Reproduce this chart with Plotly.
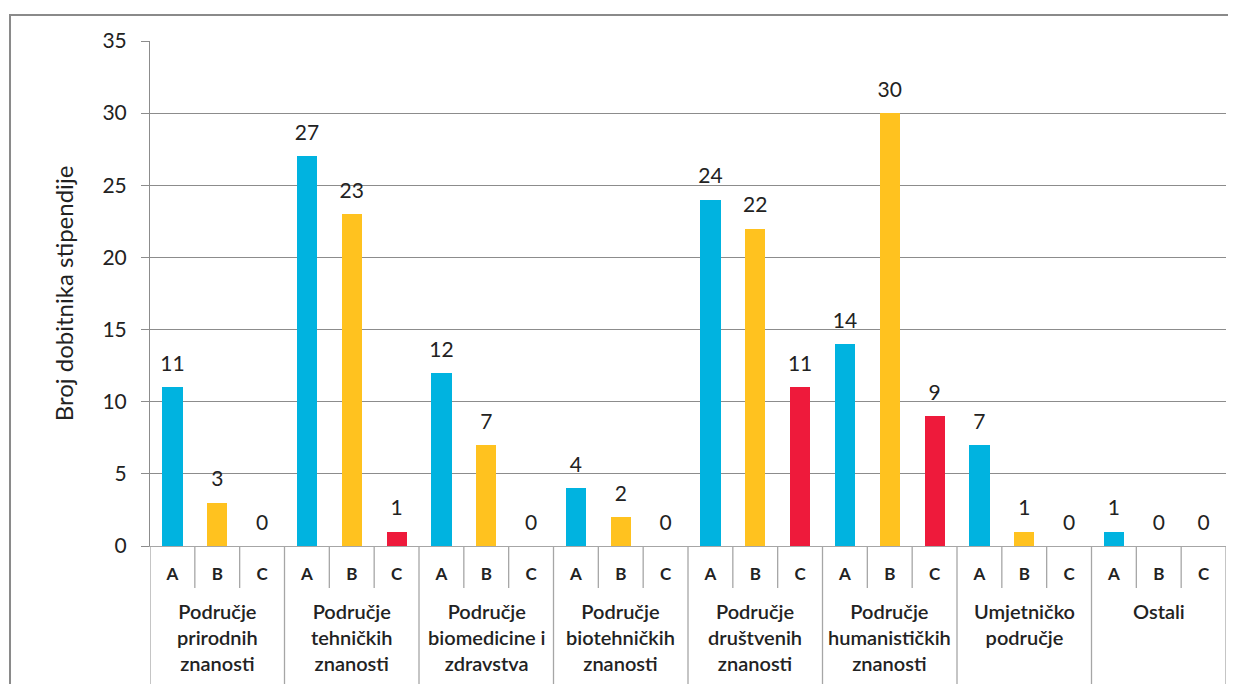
"""Broj dobitnika stipendije po znanstvenim područjima (A/B/C)."""

import plotly.graph_objects as go

GROUPS = [
    "Područje<br>prirodnih<br>znanosti",
    "Područje<br>tehničkih<br>znanosti",
    "Područje<br>biomedicine i<br>zdravstva",
    "Područje<br>biotehničkih<br>znanosti",
    "Područje<br>društvenih<br>znanosti",
    "Područje<br>humanističkih<br>znanosti",
    "Umjetničko<br>područje",
    "Ostali",
]
SUBCATS = ["A", "B", "C"]
VALUES_A = [11, 27, 12, 4, 24, 14, 7, 1]
VALUES_B = [3, 23, 7, 2, 22, 30, 1, 0]
VALUES_C = [0, 1, 0, 0, 11, 9, 0, 0]

COLORS = {"A": "#00B3E0", "B": "#FFC21F", "C": "#EE1A3B"}
GRID = "#8c8c8c"
SEP = "#a6a6a6"
TEXT = "#222222"
FONT = "Lato"

fig = go.Figure()

series = {"A": VALUES_A, "B": VALUES_B, "C": VALUES_C}
for j, name in enumerate(SUBCATS):
    xs = [g * 3 + j for g in range(len(GROUPS))]
    vals = series[name]
    fig.add_trace(
        go.Bar(
            x=xs,
            y=vals,
            name=name,
            width=0.45,
            marker=dict(color=COLORS[name], line=dict(width=0)),
            showlegend=False,
            hoverinfo="y",
        )
    )
    # value labels above the bars
    fig.add_trace(
        go.Scatter(
            x=xs,
            y=vals,
            mode="markers+text",
            text=[str(v) for v in vals],
            textposition="top center",
            textfont=dict(size=21, color=TEXT, family=FONT),
            marker=dict(size=16, opacity=0),
            showlegend=False,
            hoverinfo="skip",
        )
    )

n_slots = len(GROUPS) * 3
shapes = []
# separators between A/B/C and between groups
for k in range(n_slots + 1):
    xb = k - 0.5
    is_group = k % 3 == 0
    shapes.append(
        dict(
            type="line", xref="x", yref="paper",
            x0=xb, x1=xb, y0=0, y1=-0.4 if is_group else -0.083,
            line=dict(color=SEP, width=1.3),
        )
    )
# outer chart frame
shapes.append(
    dict(
        type="rect", xref="paper", yref="paper",
        x0=-0.1301, x1=1.05, y0=-0.5, y1=1.0515,
        line=dict(color="#8a8a8a", width=2), layer="below",
    )
)

annotations = []
for g, label in enumerate(GROUPS):
    annotations.append(
        dict(
            x=g * 3 + 1, y=-0.1, xref="x", yref="paper",
            text=label, showarrow=False, yanchor="top", align="center",
            font=dict(size=20, color=TEXT, family=FONT, weight=600),
        )
    )

# the page body adds an 8px margin, so the figure is shifted by that amount
fig.update_layout(
    width=1228,
    height=676,
    paper_bgcolor="white",
    plot_bgcolor="white",
    margin=dict(l=142, r=10, t=33, b=138),
    font=dict(family=FONT, color=TEXT),
    shapes=shapes,
    annotations=annotations,
    bargap=0,
)
fig.update_xaxes(
    range=[-0.5, n_slots - 0.5],
    tickvals=list(range(n_slots)),
    ticktext=SUBCATS * len(GROUPS),
    tickfont=dict(size=17, color=TEXT, family=FONT, weight="bold"),
    ticks="",
    ticklabelstandoff=12,
    showgrid=False,
    zeroline=False,
    showline=True,
    linecolor=SEP,
    linewidth=1.3,
)
fig.update_yaxes(
    range=[0, 35],
    dtick=5,
    tickfont=dict(size=21, color=TEXT, family=FONT),
    ticks="outside",
    ticklen=8,
    tickcolor=GRID,
    ticklabelstandoff=10,
    gridcolor=GRID,
    gridwidth=1,
    zeroline=False,
    showline=True,
    linecolor=GRID,
    linewidth=1,
    title=dict(text="Broj dobitnika stipendije", font=dict(size=24, color=TEXT, family=FONT), standoff=22),
)

fig.write_html("out.html")
